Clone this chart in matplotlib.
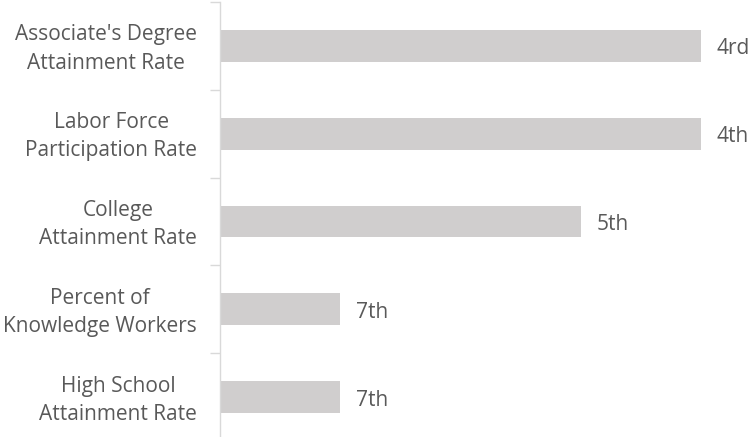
import matplotlib
matplotlib.use("Agg")
import matplotlib.pyplot as plt
import numpy as np

# state rankings for each workforce measure
categories = ["Associate's Degree\nAttainment Rate",
              "Labor Force\nParticipation Rate",
              "College\nAttainment Rate",
              "Percent of\nKnowledge Workers",
              "High School\nAttainment Rate"]
rank_labels = ["4rd", "4th", "5th", "7th", "7th"]
ranks = [4, 4, 5, 7, 7]

# bar length grows as the rank improves
scores = [8 - r for r in ranks]

bar_color = "#D0CECE"
text_color = "#595959"
axis_color = "#D9D9D9"

plt.rcParams['font.family'] = ['Open Sans', 'DejaVu Sans']

fig = plt.figure(figsize=(7.51, 4.37), dpi=100)
ax = fig.add_axes([220 / 751, -4 / 437, 520 / 751, 439 / 437])

y = np.arange(len(categories))
ax.barh(y, scores, height=0.36, color=bar_color, zorder=2)

for yi, s, lab in zip(y, scores, rank_labels):
    ax.annotate(lab, (s, yi), xytext=(11, -2.2), textcoords="offset points",
                va="center", ha="left", fontsize=15, color=text_color)

# category names, centred two-line labels left of the axis
trans = ax.get_yaxis_transform()
for yi, name in zip(y, categories):
    ax.annotate(name, (0, yi), xycoords=trans, xytext=(-16.5, -2.2),
                textcoords="offset points", ha="right", va="center",
                multialignment="center", linespacing=1.45,
                fontsize=15, color=text_color, annotation_clip=False)

ax.set_ylim(len(categories) - 0.5, -0.5)
ax.set_xlim(0, 520 / 120.3)

ax.set_yticks(np.arange(-0.5, len(categories)))
ax.set_yticklabels([])
ax.tick_params(axis="y", length=7, width=1, color=axis_color)
ax.set_xticks([])

for side in ["top", "right", "bottom"]:
    ax.spines[side].set_visible(False)
ax.spines["left"].set_color(axis_color)
ax.spines["left"].set_linewidth(1)

fig.savefig("out.png", dpi=100)
